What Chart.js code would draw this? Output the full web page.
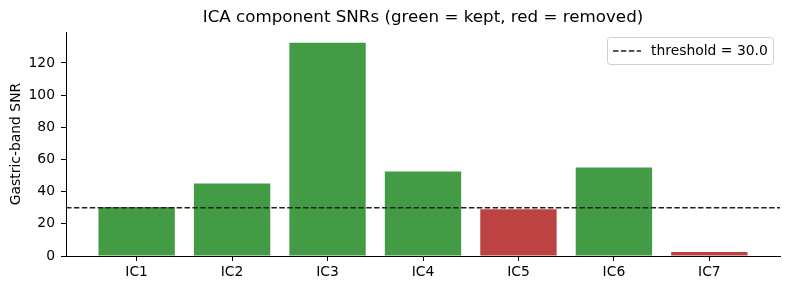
<!DOCTYPE html>
<html><head><meta charset="utf-8">
<script src="https://cdn.jsdelivr.net/npm/chart.js@4.4.0/dist/chart.umd.min.js"></script>
<style>html,body{margin:0;padding:0;background:#fff}#wrap{width:790px;height:290px}</style>
</head><body><div id="wrap"><canvas id="c" width="790" height="290"></canvas></div>
<script>
const categories = ["IC1","IC2","IC3","IC4","IC5","IC6","IC7"];
const snrValues = [30.4, 45.1, 132.6, 52.5, 29.0, 55.0, 2.5];
const kept = [true, true, true, true, false, true, false];
const threshold = 30.0;
const yTicks = [0, 20, 40, 60, 80, 100, 120];
const titleText = "ICA component SNRs (green = kept, red = removed)";
const yLabel = "Gastric-band SNR";
const legendText = "threshold = 30.0";

const GREEN = "#439c45", RED = "#bd4343";
const FONT = "'DejaVu Sans', sans-serif";
const n = categories.length;
const xMin = -0.4 - 0.05 * (n - 1 + 0.8), xMax = n - 1 + 0.4 + 0.05 * (n - 1 + 0.8);
const yMax = Math.max(...snrValues) * 1.05;

const overlay = {
  id: 'overlay',
  afterDraw(chart) {
    const ctx = chart.ctx, a = chart.chartArea;
    ctx.save();
    ctx.fillStyle = '#000';
    ctx.font = "16.7px " + FONT;
    ctx.textAlign = 'center'; ctx.textBaseline = 'middle';
    ctx.fillText(titleText, (a.left + a.right) / 2, 18);
    // legend
    const bx = 607.5, by = 37.5, bw = 166, bh = 27;
    ctx.beginPath();
    const r = 3;
    ctx.moveTo(bx + r, by); ctx.lineTo(bx + bw - r, by); ctx.arcTo(bx + bw, by, bx + bw, by + r, r);
    ctx.lineTo(bx + bw, by + bh - r); ctx.arcTo(bx + bw, by + bh, bx + bw - r, by + bh, r);
    ctx.lineTo(bx + r, by + bh); ctx.arcTo(bx, by + bh, bx, by + bh - r, r);
    ctx.lineTo(bx, by + r); ctx.arcTo(bx, by, bx + r, by, r);
    ctx.fillStyle = 'rgba(255,255,255,0.8)'; ctx.fill();
    ctx.strokeStyle = '#d0d0d0'; ctx.lineWidth = 1; ctx.stroke();
    ctx.beginPath();
    ctx.setLineDash([5.5, 2.4]);
    ctx.strokeStyle = '#222'; ctx.lineWidth = 1.6;
    ctx.moveTo(613, 51); ctx.lineTo(641, 51); ctx.stroke();
    ctx.setLineDash([]);
    ctx.fillStyle = '#000';
    ctx.font = "13.9px " + FONT;
    ctx.textAlign = 'left';
    ctx.fillText(legendText, 651, 51);
    ctx.restore();
  }
};

new Chart(document.getElementById('c'), {
  type: 'bar',
  data: {
    datasets: [
      {
        type: 'bar',
        data: snrValues.map((v, i) => ({x: i, y: v})),
        backgroundColor: kept.map(k => k ? GREEN : RED),
        borderWidth: 0,
        inflateAmount: 0,
        barPercentage: 0.8,
        categoryPercentage: 1.0,
        order: 2
      },
      {
        type: 'line',
        data: [{x: xMin, y: threshold}, {x: xMax, y: threshold}],
        borderColor: '#222',
        borderWidth: 1.6,
        borderDash: [5.5, 2.4],
        pointRadius: 0,
        fill: false,
        order: 1
      }
    ]
  },
  options: {
    responsive: false,
    animation: false,
    layout: {padding: {left: 0, right: 10, top: 32, bottom: 0}},
    plugins: {legend: {display: false}, tooltip: {enabled: false}, title: {display: false}},
    scales: {
      x: {
        type: 'linear', min: xMin, max: xMax, offset: false,
        afterBuildTicks: s => { s.ticks = categories.map((c, i) => ({value: i})); },
        afterFit: s => { s.height = 34; },
        ticks: {callback: v => categories[v], color: '#000', font: {family: FONT, size: 13.9}, padding: 3, maxRotation: 0, autoSkip: false},
        grid: {display: true, offset: false, drawOnChartArea: false, drawTicks: true, tickLength: 5, color: '#000', tickWidth: 1},
        border: {display: true, color: '#000', width: 1}
      },
      y: {
        min: 0, max: yMax,
        afterBuildTicks: s => { s.ticks = yTicks.map(v => ({value: v})); },
        afterFit: s => { s.width = 66; },
        ticks: {color: '#000', font: {family: FONT, size: 13.9}, padding: 6},
        grid: {display: true, drawOnChartArea: false, drawTicks: true, tickLength: 5, color: '#000', tickWidth: 1},
        border: {display: true, color: '#000', width: 1},
        title: {display: true, text: yLabel, color: '#000', font: {family: FONT, size: 13.9}, padding: {top: 8, bottom: 0}}
      }
    }
  },
  plugins: [overlay]
});
</script></body></html>
